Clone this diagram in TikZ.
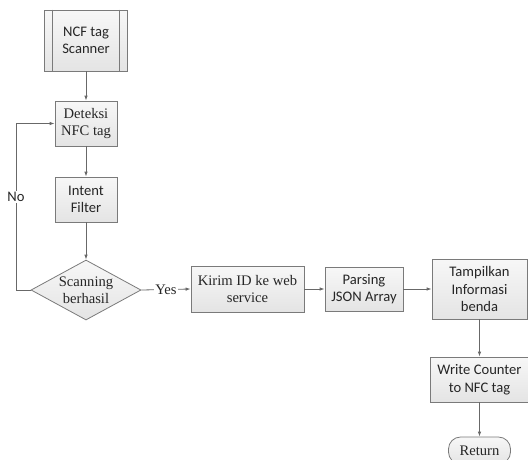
\documentclass[tikz,border=0pt]{standalone}
\usepackage{fontspec}
\setmainfont{Liberation Serif}
\newfontfamily\calibri{Carlito}
\usetikzlibrary{shapes.geometric,arrows.meta}

\definecolor{edge}{HTML}{7A7A7A}
\definecolor{boxtop}{HTML}{F7F7F7}
\definecolor{boxbot}{HTML}{E4E4E4}
\definecolor{ink}{HTML}{262626}

\tikzset{
  box/.style={draw=edge, line width=0.8pt, top color=boxtop, bottom color=boxbot,
    align=center, inner sep=1pt, text=ink, font=\fontsize{14.6}{17.5}\selectfont},
  sansbox/.style={box, font=\calibri\fontsize{14.6}{17.5}\selectfont},
  decision/.style={box, shape=diamond, aspect=1.83, inner sep=0pt,
    minimum width=110pt, minimum height=60pt},
  terminal/.style={box, rounded corners=12pt, minimum width=62pt, minimum height=27pt},
  arr/.style={draw=edge!85!black, line width=0.8pt, -{Latex[length=5pt,width=3.5pt]}},
  lbl/.style={fill=white, inner sep=1pt, text=ink}
}

\begin{document}
\begin{tikzpicture}[x=1pt, y=-1pt]
\useasboundingbox (0,0) rectangle (528,459);

% left column
\node[sansbox, minimum width=83pt, minimum height=61pt] (scan) at (86,40.5) {NCF tag\\Scanner};
\draw[edge, line width=0.8pt] ([xshift=8.5pt]scan.north west) -- ([xshift=8.5pt]scan.south west);
\draw[edge, line width=0.8pt] ([xshift=-8.5pt]scan.north east) -- ([xshift=-8.5pt]scan.south east);

\node[box, minimum width=62pt, minimum height=45pt] (detect) at (86,123.5) {Deteksi\\NFC tag};
\node[sansbox, minimum width=62pt, minimum height=45pt] (intent) at (86,199.5) {Intent\\Filter};
\node[decision] (scanok) at (86,290) {Scanning\\berhasil};

% bottom row
\node[box, minimum width=113pt, minimum height=46pt] (send) at (247.5,289) {Kirim ID ke web\\service};
\node[sansbox, minimum width=78pt, minimum height=44pt] (parse) at (364,289) {Parsing\\JSON Array};
\node[sansbox, minimum width=95pt, minimum height=60pt] (show) at (479.5,289) {Tampilkan\\Informasi\\benda};

% right column
\node[sansbox, minimum width=99pt, minimum height=45pt] (write) at (479.5,379.5) {Write Counter\\to NFC tag};
\node[terminal] (ret) at (479.5,450.5) {Return};

% flow
\draw[arr] (scan) -- (detect);
\draw[arr] (detect) -- (intent);
\draw[arr] (intent) -- (scanok);
\coordinate (noturn) at (16,290);
\draw[arr] (scanok.west) -- (noturn) |- node[lbl, pos=0.28, font=\calibri\fontsize{14.6}{17.5}\selectfont] {No} (detect.west);
\draw[arr] (scanok.east) -- node[lbl, font=\fontsize{14.6}{17.5}\selectfont] {Yes} (send.west);
\draw[arr] (send) -- (parse);
\draw[arr] (parse) -- (show);
\draw[arr] (show) -- (write);
\draw[arr] (write) -- (ret);

\end{tikzpicture}
\end{document}
